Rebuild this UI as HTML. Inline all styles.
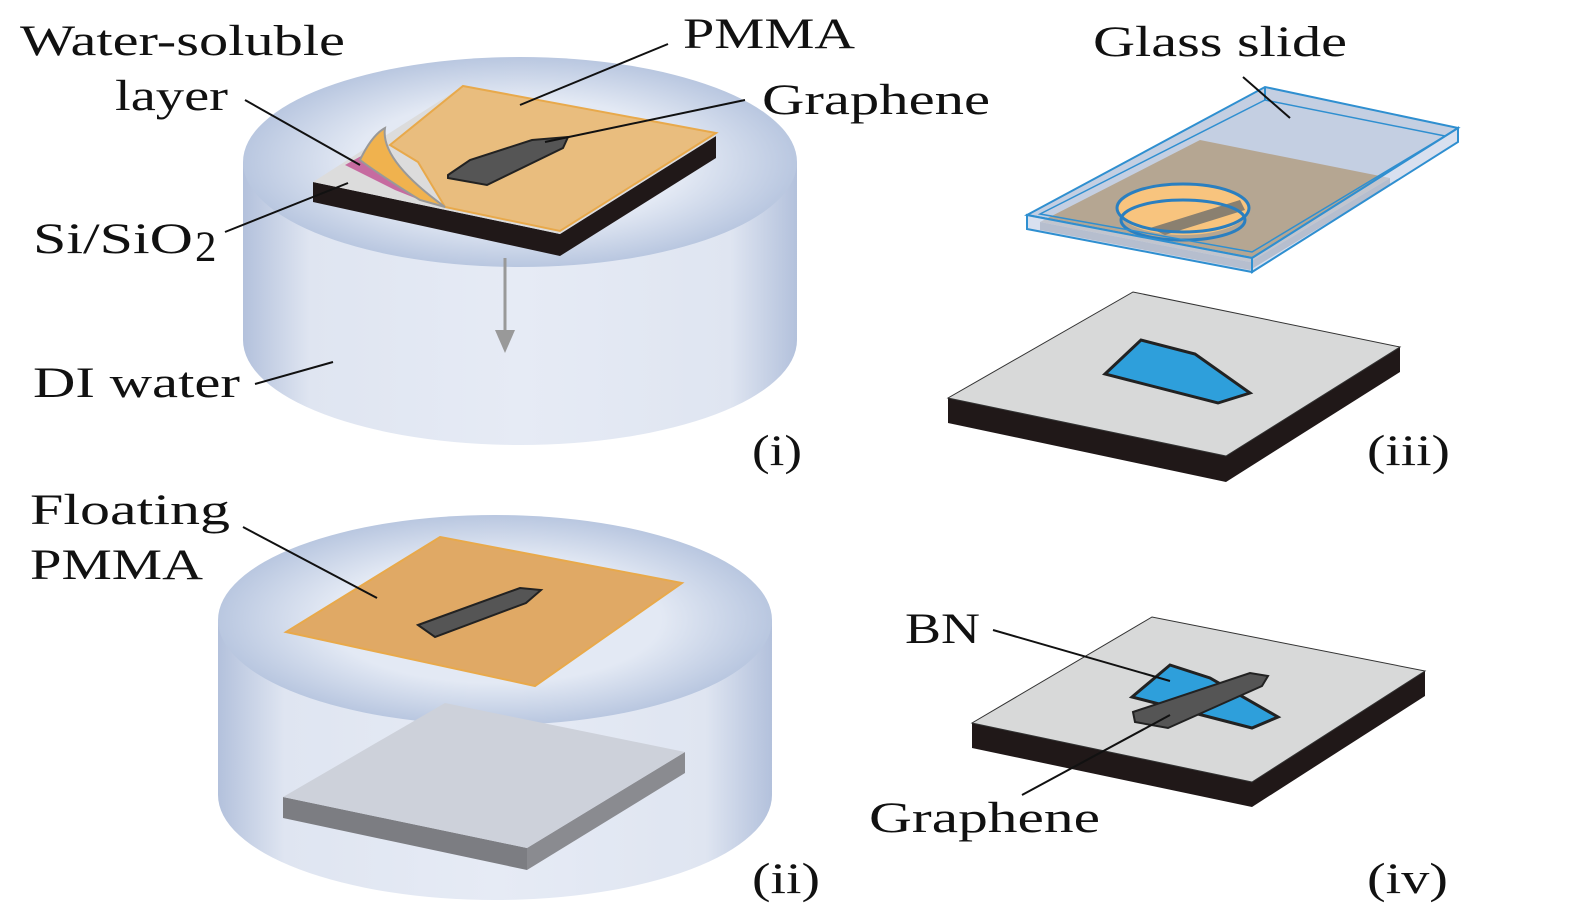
<!DOCTYPE html>
<html><head><meta charset="utf-8"><style>
html,body{margin:0;padding:0;background:#fff;}
svg{display:block;}
text{font-family:"Liberation Serif",serif;font-size:43px;fill:#111;}
</style></head><body>
<svg width="1575" height="915" viewBox="0 0 1575 915" xmlns="http://www.w3.org/2000/svg">
<defs>
<linearGradient id="cyl" x1="0" x2="1" y1="0" y2="0">
<stop offset="0" stop-color="#b3c1dc"/><stop offset="0.12" stop-color="#dfe5f1"/>
<stop offset="0.5" stop-color="#e6ebf5"/><stop offset="0.88" stop-color="#dfe5f1"/><stop offset="1" stop-color="#b3c1dc"/>
</linearGradient>
<radialGradient id="top" cx="0.5" cy="0.5" r="0.5">
<stop offset="0.6" stop-color="#e3e9f4"/><stop offset="1" stop-color="#b9c7e0"/>
</radialGradient>
</defs>

<path d="M243,162 L243,340 A277,105 0 0 0 797,340 L797,162 Z" fill="url(#cyl)"/>
<ellipse cx="520" cy="162" rx="277" ry="105" fill="url(#top)"/>
<polygon points="313,182 560,234 560,256 313,202" fill="#201818"/>
<polygon points="560,234 716,136 716,158 560,256" fill="#201818"/>
<polygon points="313,182 560,234 716,136 463,86" fill="#dcdcdc"/>
<polygon points="345,165 372,150 440,205 420,200 395,190" fill="#c66ba0"/>
<polygon points="463,86 716,133 560,231 445,207 418,162 390,145" fill="#e9bd7e" stroke="#e8a94b" stroke-width="2"/>
<path d="M360,160 Q372,135 385,128 Q380,160 445,207 L420,200 Q380,175 360,160Z" fill="#f0b24e" stroke="#999" stroke-width="2"/>
<polygon points="448,175 470,160 532,140 568,137 563,148 487,185 448,178" fill="#555" stroke="#222" stroke-width="2"/>
<line x1="505" y1="258" x2="505" y2="340" stroke="#999" stroke-width="3"/>
<polygon points="495,330 515,330 505,353" fill="#999"/>

<path d="M218,620 L218,795 A277,105 0 0 0 772,795 L772,620 Z" fill="url(#cyl)"/>
<ellipse cx="495" cy="620" rx="277" ry="105" fill="url(#top)"/>
<polygon points="283,797 527,848 527,870 283,818" fill="#7c7d82"/>
<polygon points="527,848 685,752 685,773 527,870" fill="#8a8b90"/>
<polygon points="445,703 685,752 527,848 283,797" fill="#cdd1da"/>
<polygon points="440,537 682,583 535,686 286,632" fill="#e0a965" stroke="#e8a94b" stroke-width="2"/>
<polygon points="418,625 520,588 541,590 526,603 435,637" fill="#555" stroke="#222" stroke-width="2"/>

<polygon points="1027,215 1265,87 1458,128 1252,258" fill="#bac7dd" fill-opacity="0.85"/>
<polygon points="1040,222 1200,140 1390,178 1250,262" fill="#b5a692"/>
<polygon points="1040,222 1250,262 1390,178 1390,185 1250,270 1040,230" fill="#8c8c90"/>
<ellipse cx="1183" cy="210" rx="65" ry="25" fill="#f8c47e"/>
<polygon points="1150,228 1240,200 1245,210 1165,235" fill="#8a8070"/>
<ellipse cx="1183" cy="208" rx="66" ry="24" fill="none" stroke="#2a7fc0" stroke-width="3"/>
<ellipse cx="1183" cy="220" rx="62" ry="20" fill="none" stroke="#2a7fc0" stroke-width="3"/>
<polygon points="1027,215 1265,87 1458,128 1252,258" fill="none" stroke="#2f8fd0" stroke-width="2"/>
<polygon points="1040,214 1265,100 1445,136 1252,252" fill="none" stroke="#2f8fd0" stroke-width="1.5"/>
<polygon points="1027,215 1252,258 1252,272 1027,229" fill="#c8d3e8" fill-opacity="0.7" stroke="#2f8fd0" stroke-width="2"/>
<polygon points="1252,258 1458,128 1458,142 1252,272" fill="#c8d3e8" fill-opacity="0.7" stroke="#2f8fd0" stroke-width="2"/>
<line x1="1265" y1="87" x2="1265" y2="100" stroke="#2f8fd0" stroke-width="2"/>
<polygon points="948,398 1226,456 1226,482 948,423" fill="#201818"/>
<polygon points="1226,456 1400,347 1400,372 1226,482" fill="#201818"/>
<polygon points="948,398 1226,456 1400,347 1133,292" fill="#d8d9d9" stroke="#333" stroke-width="1"/>
<polygon points="1105,374 1141,340 1195,354 1250,393 1218,403" fill="#2e9fdb" stroke="#222" stroke-width="3"/>

<polygon points="972,723 1252,782 1252,807 972,748" fill="#201818"/>
<polygon points="1252,782 1425,671 1425,696 1252,807" fill="#201818"/>
<polygon points="972,723 1252,782 1425,671 1152,617" fill="#d8d9d9" stroke="#333" stroke-width="1"/>
<polygon points="1132,697 1170,665 1210,678 1278,717 1252,728" fill="#2e9fdb" stroke="#222" stroke-width="3"/>
<polygon points="1133,712 1250,673 1268,676 1262,686 1168,728 1135,722" fill="#555" stroke="#222" stroke-width="2"/>

<g stroke="#111" stroke-width="2">
<line x1="245" y1="100" x2="360" y2="165"/>
<line x1="668" y1="44" x2="520" y2="105"/>
<line x1="745" y1="100" x2="545" y2="142"/>
<line x1="225" y1="232" x2="348" y2="183"/>
<line x1="255" y1="384" x2="333" y2="362"/>
<line x1="243" y1="527" x2="377" y2="598"/>
<line x1="1243" y1="77" x2="1290" y2="118"/>
<line x1="993" y1="630" x2="1170" y2="681"/>
<line x1="1022" y1="795" x2="1170" y2="715"/>
</g>

<g lengthAdjust="spacingAndGlyphs">
<text x="20" y="55" textLength="325" lengthAdjust="spacingAndGlyphs">Water-soluble</text>
<text x="115" y="110" textLength="113" lengthAdjust="spacingAndGlyphs">layer</text>
<text x="683" y="48" textLength="172" lengthAdjust="spacingAndGlyphs">PMMA</text>
<text x="762" y="114" textLength="228" lengthAdjust="spacingAndGlyphs">Graphene</text>
<text x="33" y="253" textLength="160" lengthAdjust="spacingAndGlyphs">Si/SiO</text>
<text x="195" y="261" font-size="30">2</text>
<text x="33" y="397" textLength="207" lengthAdjust="spacingAndGlyphs">DI water</text>
<text x="752" y="465" textLength="50" lengthAdjust="spacingAndGlyphs">(i)</text>
<text x="1093" y="56" textLength="254" lengthAdjust="spacingAndGlyphs">Glass slide</text>
<text x="1367" y="465" textLength="83" lengthAdjust="spacingAndGlyphs">(iii)</text>
<text x="30" y="524" textLength="200" lengthAdjust="spacingAndGlyphs">Floating</text>
<text x="30" y="579" textLength="173" lengthAdjust="spacingAndGlyphs">PMMA</text>
<text x="752" y="893" textLength="68" lengthAdjust="spacingAndGlyphs">(ii)</text>
<text x="905" y="643" textLength="75" lengthAdjust="spacingAndGlyphs">BN</text>
<text x="869" y="832" textLength="231" lengthAdjust="spacingAndGlyphs">Graphene</text>
<text x="1367" y="893" textLength="81" lengthAdjust="spacingAndGlyphs">(iv)</text>
</g>
</svg>
</body></html>
